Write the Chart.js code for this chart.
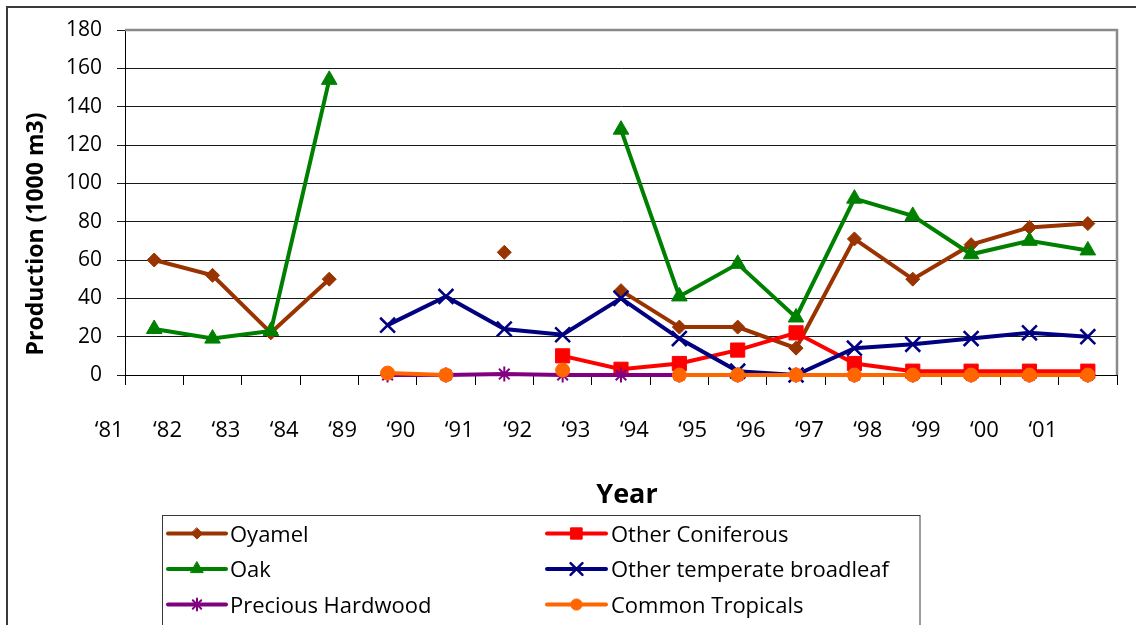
<!DOCTYPE html>
<html>
<head>
<meta charset="utf-8">
<title>Production by species group</title>
<script src="https://cdn.jsdelivr.net/npm/chart.js@4.4.1/dist/chart.umd.min.js"></script>
<style>
  html, body { margin: 0; padding: 0; background: #ffffff; }
  canvas { display: block; }
</style>
</head>
<body>
<canvas id="chart" width="1136" height="625"></canvas>
<script>
// Category labels along the x axis
const years = ['‘81', '‘82', '‘83', '‘84', '‘89', '‘90', '‘91', '‘92', '‘93',
               '‘94', '‘95', '‘96', '‘97', '‘98', '‘99', '‘00', '‘01'];

// Production per group, 1000 m3 (null = no figure for that year)
const oyamel           = [60, 52, 22, 50, null, null, 64, null, 44, 25, 25, 14, 71, 50, 68, 77, 79];
const otherConiferous  = [null, null, null, null, null, null, null, 10, 3, 6, 13, 22, 6, 2, 2, 2, 2];
const oak              = [24, 19, 23, 154, null, null, null, null, 128, 41, 58, 30, 92, 83, 63, 70, 65];
const otherBroadleaf   = [null, null, null, null, 26, 41, 24, 21, 40, 19, 2, 0, 14, 16, 19, 22, 20];
const preciousHardwood = [null, null, null, null, 0, 0, 0.5, 0, 0, 0, 0, 0, 0, 0, 0, 0, 0];
const commonTropicals  = [null, null, null, null, 1, 0, null, 2.5, null, 0, 0, 0, 0, 0, 0, 0, 0];

// Y axis range
const yMin = 0, yMax = 180, yStep = 20;

const FONT = "'Open Sans', 'DejaVu Sans', sans-serif";

function series(label, data, color, style, radius, pbw, order) {
  return {
    label, data,
    borderColor: color, backgroundColor: color,
    pointBackgroundColor: color, pointBorderColor: color,
    borderWidth: 4, pointStyle: style, pointRadius: radius,
    pointBorderWidth: pbw, pointHoverRadius: radius,
    tension: 0, spanGaps: false, clip: false, order
  };
}

// Marker shapes for the legend, same geometry as Chart.js point styles
function drawMarker(ctx, style, x, y, r, color, lw) {
  ctx.save();
  ctx.fillStyle = color; ctx.strokeStyle = color; ctx.lineWidth = lw;
  ctx.beginPath();
  const d = r * Math.SQRT1_2;
  switch (style) {
    case 'rectRot':
      ctx.moveTo(x, y - r); ctx.lineTo(x + r, y); ctx.lineTo(x, y + r); ctx.lineTo(x - r, y);
      ctx.closePath(); ctx.fill(); ctx.stroke(); break;
    case 'rect':
      ctx.rect(x - d, y - d, 2 * d, 2 * d); ctx.fill(); ctx.stroke(); break;
    case 'triangle': {
      let a = 0;
      ctx.moveTo(x + Math.sin(a) * r, y - Math.cos(a) * r);
      a += 2 * Math.PI / 3; ctx.lineTo(x + Math.sin(a) * r, y - Math.cos(a) * r);
      a += 2 * Math.PI / 3; ctx.lineTo(x + Math.sin(a) * r, y - Math.cos(a) * r);
      ctx.closePath(); ctx.fill(); ctx.stroke(); break;
    }
    case 'circle':
      ctx.arc(x, y, r, 0, Math.PI * 2); ctx.fill(); ctx.stroke(); break;
    case 'crossRot':
      ctx.moveTo(x - d, y - d); ctx.lineTo(x + d, y + d);
      ctx.moveTo(x + d, y - d); ctx.lineTo(x - d, y + d); ctx.stroke(); break;
    case 'star':
      ctx.moveTo(x, y - r); ctx.lineTo(x, y + r);
      ctx.moveTo(x - r, y); ctx.lineTo(x + r, y);
      ctx.moveTo(x - d, y - d); ctx.lineTo(x + d, y + d);
      ctx.moveTo(x + d, y - d); ctx.lineTo(x - d, y + d); ctx.stroke(); break;
  }
  ctx.restore();
}

// Outer frame plus the grey top/right edges of the plot area
const framePlugin = {
  id: 'frame',
  beforeDraw(chart) {
    const ctx = chart.ctx;
    ctx.save();
    ctx.fillStyle = '#ffffff';
    ctx.fillRect(0, 0, chart.width, chart.height);
    ctx.strokeStyle = '#3a3a3a';
    ctx.lineWidth = 2;
    ctx.beginPath();
    ctx.moveTo(7, chart.height + 5); ctx.lineTo(7, 7); ctx.lineTo(chart.width + 5, 7);
    ctx.stroke();
    ctx.restore();
  },
  beforeDatasetsDraw(chart) {
    const { ctx, chartArea: a } = chart;
    ctx.save();
    ctx.strokeStyle = '#8a8a8a';
    ctx.lineWidth = 2.5;
    ctx.beginPath();
    ctx.moveTo(a.left, a.top); ctx.lineTo(a.right, a.top); ctx.lineTo(a.right, a.bottom);
    ctx.stroke();
    ctx.restore();
  }
};

// Axis titles
const titlesPlugin = {
  id: 'axisTitles',
  afterDraw(chart) {
    const ctx = chart.ctx;
    ctx.save();
    ctx.fillStyle = '#000';
    ctx.font = "bold 23px " + FONT;
    ctx.textAlign = 'center';
    ctx.textBaseline = 'alphabetic';
    ctx.translate(43, 234);
    ctx.rotate(-Math.PI / 2);
    ctx.fillText('Production (1000 m3)', 0, 0);
    ctx.restore();

    ctx.save();
    ctx.fillStyle = '#000';
    ctx.font = "bold 27px " + FONT;
    ctx.textAlign = 'center';
    ctx.textBaseline = 'alphabetic';
    ctx.fillText('Year', 627, 503);
    ctx.restore();
  }
};

// Two-column boxed legend below the plot
const legendPlugin = {
  id: 'boxLegend',
  afterDraw(chart) {
    const ctx = chart.ctx;
    const box = { x: 162.5, y: 515.5, w: 757.5, h: 200 };
    ctx.save();
    ctx.strokeStyle = '#3a3a3a';
    ctx.lineWidth = 1;
    ctx.strokeRect(box.x, box.y, box.w, box.h);

    const cols = [{ x0: 168, x1: 226, text: 230 }, { x0: 547, x1: 606, text: 611 }];
    const rows = [533.5, 569, 604.5];
    chart.data.datasets.forEach((ds, i) => {
      const c = cols[i % 2], y = rows[Math.floor(i / 2)];
      ctx.strokeStyle = ds.borderColor;
      ctx.lineWidth = 4;
      ctx.lineCap = 'round';
      ctx.beginPath(); ctx.moveTo(c.x0, y); ctx.lineTo(c.x1, y); ctx.stroke();
      drawMarker(ctx, ds.pointStyle, (c.x0 + c.x1) / 2, y, ds.pointRadius * 0.8,
                 ds.borderColor, ds.pointBorderWidth);
      ctx.fillStyle = '#000';
      ctx.font = "22px " + FONT;
      ctx.textAlign = 'left';
      ctx.textBaseline = 'alphabetic';
      ctx.fillText(ds.label, c.text, y + 8);
    });
    ctx.restore();
  }
};

new Chart(document.getElementById('chart'), {
  type: 'line',
  data: {
    labels: years,
    datasets: [
      series('Oyamel', oyamel, '#993300', 'rectRot', 7, 1, 6),
      series('Other Coniferous', otherConiferous, '#ff0000', 'rect', 10, 1, 5),
      series('Oak', oak, '#008000', 'triangle', 9, 1, 4),
      series('Other temperate broadleaf', otherBroadleaf, '#000080', 'crossRot', 10.5, 2.5, 3),
      series('Precious Hardwood', preciousHardwood, '#800080', 'star', 7.5, 2, 2),
      series('Common Tropicals', commonTropicals, '#ff6600', 'circle', 7, 1, 1)
    ]
  },
  options: {
    responsive: false,
    animation: false,
    devicePixelRatio: 1,
    events: [],
    layout: { padding: { top: 30, right: 19, bottom: 150, left: 0 } },
    plugins: { legend: { display: false }, tooltip: { enabled: false }, title: { display: false } },
    scales: {
      x: {
        type: 'category',
        offset: true,
        grid: { offset: true, drawOnChartArea: false, drawTicks: true, tickLength: 10, color: '#000', lineWidth: 1 },
        border: { display: true, color: '#000', width: 1 },
        ticks: { font: { family: FONT, size: 22 }, color: '#000', padding: 33, labelOffset: -45, maxRotation: 0, autoSkip: false },
        afterFit(s) { s.height = 100; }
      },
      y: {
        min: yMin, max: yMax,
        grid: { color: '#1a1a1a', lineWidth: 1, tickLength: 8, drawTicks: true },
        border: { display: true, color: '#000', width: 1 },
        ticks: { stepSize: yStep, font: { family: FONT, size: 21 }, color: '#000', padding: 15 },
        afterFit(s) { s.width = 125; }
      }
    }
  },
  plugins: [framePlugin, titlesPlugin, legendPlugin]
});
</script>
</body>
</html>
